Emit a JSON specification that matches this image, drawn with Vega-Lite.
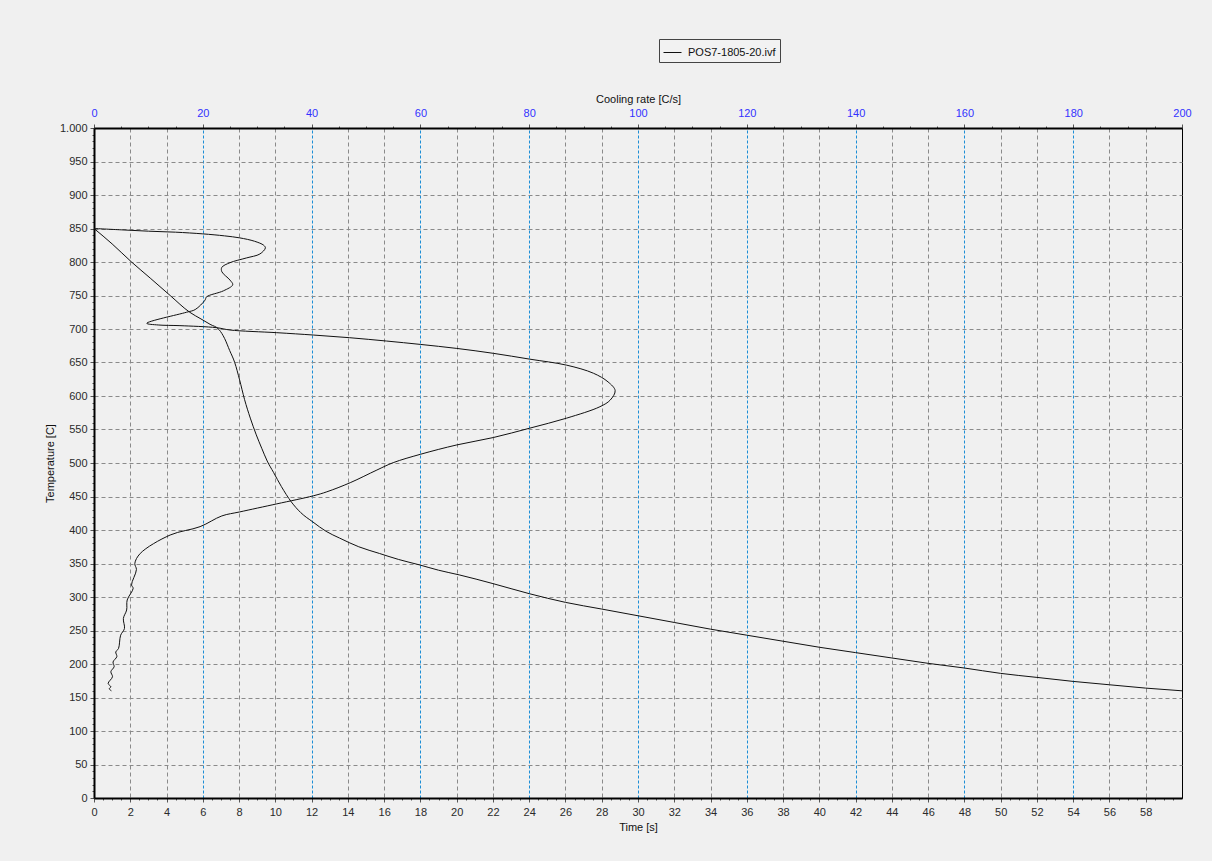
{
  "$schema": "https://vega.github.io/schema/vega-lite/v6.json",
  "autosize": {"type": "none"},
  "width": 1088,
  "height": 670,
  "padding": {"left": 94, "top": 128, "right": 30, "bottom": 63},
  "background": "#f0f0f0",
  "datasets": {
    "timecurve": [
      {"time": 0, "temp": 850, "file": "POS7-1805-20.ivf"},
      {"time": 1.0, "temp": 827, "file": "POS7-1805-20.ivf"},
      {"time": 2.07, "temp": 800, "file": "POS7-1805-20.ivf"},
      {"time": 3.1, "temp": 776, "file": "POS7-1805-20.ivf"},
      {"time": 4.2, "temp": 750, "file": "POS7-1805-20.ivf"},
      {"time": 5.28, "temp": 725, "file": "POS7-1805-20.ivf"},
      {"time": 5.9, "temp": 715, "file": "POS7-1805-20.ivf"},
      {"time": 6.4, "temp": 707, "file": "POS7-1805-20.ivf"},
      {"time": 6.9, "temp": 699, "file": "POS7-1805-20.ivf"},
      {"time": 7.2, "temp": 686, "file": "POS7-1805-20.ivf"},
      {"time": 7.48, "temp": 668, "file": "POS7-1805-20.ivf"},
      {"time": 7.76, "temp": 650, "file": "POS7-1805-20.ivf"},
      {"time": 8.03, "temp": 624, "file": "POS7-1805-20.ivf"},
      {"time": 8.3, "temp": 595, "file": "POS7-1805-20.ivf"},
      {"time": 8.62, "temp": 567, "file": "POS7-1805-20.ivf"},
      {"time": 8.95, "temp": 542, "file": "POS7-1805-20.ivf"},
      {"time": 9.25, "temp": 522, "file": "POS7-1805-20.ivf"},
      {"time": 9.55, "temp": 503, "file": "POS7-1805-20.ivf"},
      {"time": 9.9, "temp": 486, "file": "POS7-1805-20.ivf"},
      {"time": 10.33, "temp": 465, "file": "POS7-1805-20.ivf"},
      {"time": 10.88, "temp": 442, "file": "POS7-1805-20.ivf"},
      {"time": 11.4, "temp": 426, "file": "POS7-1805-20.ivf"},
      {"time": 12.07, "temp": 412, "file": "POS7-1805-20.ivf"},
      {"time": 12.8, "temp": 398, "file": "POS7-1805-20.ivf"},
      {"time": 13.54, "temp": 388, "file": "POS7-1805-20.ivf"},
      {"time": 14.6, "temp": 375, "file": "POS7-1805-20.ivf"},
      {"time": 15.74, "temp": 365, "file": "POS7-1805-20.ivf"},
      {"time": 16.8, "temp": 356, "file": "POS7-1805-20.ivf"},
      {"time": 17.94, "temp": 348, "file": "POS7-1805-20.ivf"},
      {"time": 19, "temp": 340, "file": "POS7-1805-20.ivf"},
      {"time": 20.14, "temp": 333, "file": "POS7-1805-20.ivf"},
      {"time": 22, "temp": 320, "file": "POS7-1805-20.ivf"},
      {"time": 24, "temp": 305, "file": "POS7-1805-20.ivf"},
      {"time": 26, "temp": 292, "file": "POS7-1805-20.ivf"},
      {"time": 28, "temp": 282, "file": "POS7-1805-20.ivf"},
      {"time": 30, "temp": 272, "file": "POS7-1805-20.ivf"},
      {"time": 32, "temp": 262, "file": "POS7-1805-20.ivf"},
      {"time": 34, "temp": 252, "file": "POS7-1805-20.ivf"},
      {"time": 36, "temp": 243, "file": "POS7-1805-20.ivf"},
      {"time": 38, "temp": 234, "file": "POS7-1805-20.ivf"},
      {"time": 40, "temp": 225, "file": "POS7-1805-20.ivf"},
      {"time": 42, "temp": 217, "file": "POS7-1805-20.ivf"},
      {"time": 44, "temp": 209, "file": "POS7-1805-20.ivf"},
      {"time": 46, "temp": 201, "file": "POS7-1805-20.ivf"},
      {"time": 48, "temp": 194, "file": "POS7-1805-20.ivf"},
      {"time": 50, "temp": 186, "file": "POS7-1805-20.ivf"},
      {"time": 52, "temp": 180, "file": "POS7-1805-20.ivf"},
      {"time": 54, "temp": 174, "file": "POS7-1805-20.ivf"},
      {"time": 56, "temp": 169, "file": "POS7-1805-20.ivf"},
      {"time": 58, "temp": 164, "file": "POS7-1805-20.ivf"},
      {"time": 60, "temp": 160, "file": "POS7-1805-20.ivf"}
    ],
    "ratecurve": [
      {"rate": 0, "temp": 850, "file": "POS7-1805-20.ivf"},
      {"rate": 5, "temp": 848, "file": "POS7-1805-20.ivf"},
      {"rate": 10, "temp": 846, "file": "POS7-1805-20.ivf"},
      {"rate": 15, "temp": 844.5, "file": "POS7-1805-20.ivf"},
      {"rate": 20, "temp": 842, "file": "POS7-1805-20.ivf"},
      {"rate": 24, "temp": 839, "file": "POS7-1805-20.ivf"},
      {"rate": 26.8, "temp": 836, "file": "POS7-1805-20.ivf"},
      {"rate": 29.5, "temp": 831, "file": "POS7-1805-20.ivf"},
      {"rate": 31.2, "temp": 825, "file": "POS7-1805-20.ivf"},
      {"rate": 31.5, "temp": 821, "file": "POS7-1805-20.ivf"},
      {"rate": 30.5, "temp": 812, "file": "POS7-1805-20.ivf"},
      {"rate": 28, "temp": 806, "file": "POS7-1805-20.ivf"},
      {"rate": 25, "temp": 799, "file": "POS7-1805-20.ivf"},
      {"rate": 23.5, "temp": 792, "file": "POS7-1805-20.ivf"},
      {"rate": 23.5, "temp": 785.5, "file": "POS7-1805-20.ivf"},
      {"rate": 25, "temp": 773, "file": "POS7-1805-20.ivf"},
      {"rate": 25.5, "temp": 766, "file": "POS7-1805-20.ivf"},
      {"rate": 23.8, "temp": 757, "file": "POS7-1805-20.ivf"},
      {"rate": 20.7, "temp": 748, "file": "POS7-1805-20.ivf"},
      {"rate": 20.4, "temp": 743, "file": "POS7-1805-20.ivf"},
      {"rate": 18.6, "temp": 729, "file": "POS7-1805-20.ivf"},
      {"rate": 17, "temp": 725, "file": "POS7-1805-20.ivf"},
      {"rate": 9.7, "temp": 708.5, "file": "POS7-1805-20.ivf"},
      {"rate": 11.8, "temp": 706, "file": "POS7-1805-20.ivf"},
      {"rate": 15.8, "temp": 705, "file": "POS7-1805-20.ivf"},
      {"rate": 22.5, "temp": 702, "file": "POS7-1805-20.ivf"},
      {"rate": 25, "temp": 698.5, "file": "POS7-1805-20.ivf"},
      {"rate": 33.6, "temp": 694.5, "file": "POS7-1805-20.ivf"},
      {"rate": 40.3, "temp": 691, "file": "POS7-1805-20.ivf"},
      {"rate": 47, "temp": 687, "file": "POS7-1805-20.ivf"},
      {"rate": 53.8, "temp": 682, "file": "POS7-1805-20.ivf"},
      {"rate": 60, "temp": 677, "file": "POS7-1805-20.ivf"},
      {"rate": 66.7, "temp": 671, "file": "POS7-1805-20.ivf"},
      {"rate": 73.4, "temp": 663.7, "file": "POS7-1805-20.ivf"},
      {"rate": 80.1, "temp": 655, "file": "POS7-1805-20.ivf"},
      {"rate": 86.9, "temp": 646, "file": "POS7-1805-20.ivf"},
      {"rate": 91.8, "temp": 634, "file": "POS7-1805-20.ivf"},
      {"rate": 94.5, "temp": 621, "file": "POS7-1805-20.ivf"},
      {"rate": 95.8, "temp": 608, "file": "POS7-1805-20.ivf"},
      {"rate": 94.9, "temp": 594, "file": "POS7-1805-20.ivf"},
      {"rate": 93, "temp": 584, "file": "POS7-1805-20.ivf"},
      {"rate": 86.9, "temp": 567, "file": "POS7-1805-20.ivf"},
      {"rate": 80.1, "temp": 552, "file": "POS7-1805-20.ivf"},
      {"rate": 73.4, "temp": 538, "file": "POS7-1805-20.ivf"},
      {"rate": 66.7, "temp": 527, "file": "POS7-1805-20.ivf"},
      {"rate": 60, "temp": 513, "file": "POS7-1805-20.ivf"},
      {"rate": 55, "temp": 500.5, "file": "POS7-1805-20.ivf"},
      {"rate": 52, "temp": 489.5, "file": "POS7-1805-20.ivf"},
      {"rate": 47.1, "temp": 470.6, "file": "POS7-1805-20.ivf"},
      {"rate": 42.8, "temp": 457, "file": "POS7-1805-20.ivf"},
      {"rate": 40.3, "temp": 451, "file": "POS7-1805-20.ivf"},
      {"rate": 33.6, "temp": 439, "file": "POS7-1805-20.ivf"},
      {"rate": 26.8, "temp": 427, "file": "POS7-1805-20.ivf"},
      {"rate": 23.5, "temp": 421, "file": "POS7-1805-20.ivf"},
      {"rate": 19.5, "temp": 405, "file": "POS7-1805-20.ivf"},
      {"rate": 14, "temp": 392.5, "file": "POS7-1805-20.ivf"},
      {"rate": 8.5, "temp": 365, "file": "POS7-1805-20.ivf"},
      {"rate": 7.5, "temp": 350, "file": "POS7-1805-20.ivf"},
      {"rate": 7.8, "temp": 341, "file": "POS7-1805-20.ivf"},
      {"rate": 6.9, "temp": 318, "file": "POS7-1805-20.ivf"},
      {"rate": 7.2, "temp": 313, "file": "POS7-1805-20.ivf"},
      {"rate": 6.1, "temp": 295.5, "file": "POS7-1805-20.ivf"},
      {"rate": 6.0, "temp": 280.6, "file": "POS7-1805-20.ivf"},
      {"rate": 5.4, "temp": 268, "file": "POS7-1805-20.ivf"},
      {"rate": 5.6, "temp": 253, "file": "POS7-1805-20.ivf"},
      {"rate": 4.9, "temp": 243, "file": "POS7-1805-20.ivf"},
      {"rate": 4.5, "temp": 223, "file": "POS7-1805-20.ivf"},
      {"rate": 4.0, "temp": 218, "file": "POS7-1805-20.ivf"},
      {"rate": 4.2, "temp": 211, "file": "POS7-1805-20.ivf"},
      {"rate": 3.5, "temp": 203, "file": "POS7-1805-20.ivf"},
      {"rate": 3.7, "temp": 196, "file": "POS7-1805-20.ivf"},
      {"rate": 3.1, "temp": 188.5, "file": "POS7-1805-20.ivf"},
      {"rate": 3.4, "temp": 181, "file": "POS7-1805-20.ivf"},
      {"rate": 2.6, "temp": 171, "file": "POS7-1805-20.ivf"},
      {"rate": 3.1, "temp": 166, "file": "POS7-1805-20.ivf"},
      {"rate": 2.8, "temp": 163, "file": "POS7-1805-20.ivf"},
      {"rate": 3.2, "temp": 160, "file": "POS7-1805-20.ivf"}
    ]
  },
  "encoding": {
    "y": {
      "field": "temp",
      "type": "quantitative",
      "scale": {"domain": [0, 1000], "nice": false, "zero": false},
      "axis": {
        "title": "Temperature [C]",
        "values": [0,10,20,30,40,50,60,70,80,90,100,110,120,130,140,150,160,170,180,190,200,210,220,230,240,250,260,270,280,290,300,310,320,330,340,350,360,370,380,390,400,410,420,430,440,450,460,470,480,490,500,510,520,530,540,550,560,570,580,590,600,610,620,630,640,650,660,670,680,690,700,710,720,730,740,750,760,770,780,790,800,810,820,830,840,850,860,870,880,890,900,910,920,930,940,950,960,970,980,990,1000],
        "labelExpr": "datum.value % 50 === 0 ? (datum.value === 1000 ? '1.000' : '' + datum.value) : ''",
        "labelOverlap": false,
        "labelFlush": false,
        "tickSize": {"condition": {"test": "datum.value % 50 === 0", "value": 4}, "value": 2},
        "grid": true,
        "gridColor": "#8a8a8a",
        "gridDash": [4, 3],
        "gridOpacity": {"condition": {"test": "datum.value % 50 === 0 && datum.value > 0 && datum.value < 1000", "value": 1}, "value": 0},
        "titlePadding": 4
      }
    },
    "color": {
      "field": "file",
      "type": "nominal",
      "scale": {"domain": ["POS7-1805-20.ivf"], "range": ["#111111"]},
      "legend": {
        "title": null,
        "orient": "none",
        "legendX": 565,
        "legendY": -89,
        "symbolType": "stroke",
        "symbolSize": 324,
        "symbolStrokeWidth": 1,
        "labelFontSize": 11,
        "labelColor": "#111111",
        "labelOffset": 6,
        "padding": 4,
        "strokeColor": "#444444",
        "fillColor": "#f2f2f2"
      }
    }
  },
  "layer": [
    {
      "data": {"name": "timecurve"},
      "mark": {"type": "line", "strokeWidth": 1, "interpolate": "monotone"},
      "encoding": {
        "x": {
          "field": "time",
          "type": "quantitative",
          "scale": {"domain": [0, 60], "nice": false, "zero": false},
          "axis": {
            "orient": "bottom",
            "title": "Time [s]",
            "values": [0,0.5,1,1.5,2,2.5,3,3.5,4,4.5,5,5.5,6,6.5,7,7.5,8,8.5,9,9.5,10,10.5,11,11.5,12,12.5,13,13.5,14,14.5,15,15.5,16,16.5,17,17.5,18,18.5,19,19.5,20,20.5,21,21.5,22,22.5,23,23.5,24,24.5,25,25.5,26,26.5,27,27.5,28,28.5,29,29.5,30,30.5,31,31.5,32,32.5,33,33.5,34,34.5,35,35.5,36,36.5,37,37.5,38,38.5,39,39.5,40,40.5,41,41.5,42,42.5,43,43.5,44,44.5,45,45.5,46,46.5,47,47.5,48,48.5,49,49.5,50,50.5,51,51.5,52,52.5,53,53.5,54,54.5,55,55.5,56,56.5,57,57.5,58,58.5,59,59.5],
            "labelExpr": "datum.value % 2 === 0 ? '' + datum.value : ''",
            "labelOverlap": false,
            "labelFlush": false,
            "labelPadding": 4,
            "tickSize": {"condition": {"test": "datum.value % 2 === 0", "value": 4}, "value": 2},
            "grid": true,
            "gridColor": "#8a8a8a",
            "gridDash": [4, 3],
            "gridOpacity": {"condition": {"test": "datum.value % 2 === 0 && datum.value % 6 !== 0", "value": 1}, "value": 0},
            "titlePadding": 4
          }
        }
      }
    },
    {
      "data": {"name": "ratecurve"},
      "mark": {"type": "line", "strokeWidth": 1, "interpolate": "catmull-rom"},
      "encoding": {
        "x": {
          "field": "rate",
          "type": "quantitative",
          "scale": {"domain": [0, 200], "nice": false, "zero": false},
          "axis": {
            "orient": "top",
            "title": "Cooling rate [C/s]",
            "values": [0,5,10,15,20,25,30,35,40,45,50,55,60,65,70,75,80,85,90,95,100,105,110,115,120,125,130,135,140,145,150,155,160,165,170,175,180,185,190,195,200],
            "labelExpr": "datum.value % 20 === 0 ? '' + datum.value : ''",
            "labelOverlap": false,
            "labelFlush": false,
            "labelColor": "#3232ff",
            "labelPadding": 6,
            "tickSize": {"condition": {"test": "datum.value % 20 === 0", "value": 4}, "value": 2},
            "grid": true,
            "gridColor": "#1c8ed6",
            "gridDash": [3, 2],
            "gridOpacity": {"condition": {"test": "datum.value % 20 === 0 && datum.value > 0 && datum.value < 200", "value": 1}, "value": 0},
            "titlePadding": 3
          }
        },
        "order": {"field": "temp", "type": "quantitative", "sort": "descending"}
      }
    }
  ],
  "resolve": {"scale": {"x": "independent"}},
  "config": {
    "font": "Liberation Sans",
    "view": {"stroke": "#000000", "strokeWidth": 1},
    "axis": {
      "domainColor": "#000000",
      "domainWidth": 2,
      "tickColor": "#555555",
      "tickWidth": 1,
      "labelFont": "Liberation Sans",
      "labelFontSize": 11,
      "labelColor": "#2a2a2a",
      "labelPadding": 3,
      "titleFont": "Liberation Sans",
      "titleFontSize": 11,
      "titleFontWeight": "normal",
      "titleColor": "#111111"
    },
    "legend": {"labelFont": "Liberation Sans"}
  }
}
